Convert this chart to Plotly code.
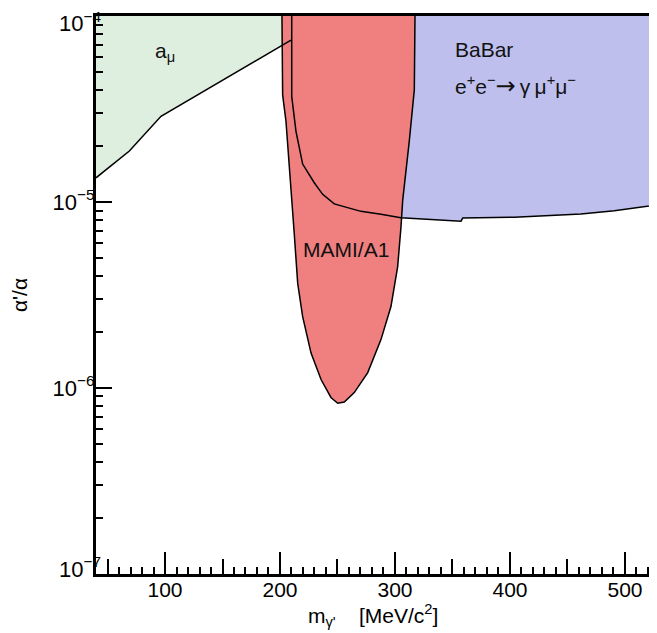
import plotly.graph_objects as go

# ---------------- data ----------------
# a_mu excluded band: lower boundary (MeV/c^2, alpha'/alpha)
amu_mass = [40.0, 69.0, 96.5, 209.6]
amu_limit = [1.35e-5, 1.88e-5, 2.89e-5, 7.42e-5]

# BaBar e+e- -> gamma mu+ mu- : lower boundary of excluded region
babar_mass = [210.2, 210.2, 213.9, 219.7, 229.8, 237.1, 247.2, 270.4, 287.8,
              305.2, 357.4, 358.9, 403.7, 461.7, 490.7, 540.0]
babar_limit = [1.0e-4, 3.70e-5, 2.40e-5, 1.60e-5, 1.27e-5, 1.10e-5, 9.77e-6,
               8.91e-6, 8.59e-6, 8.22e-6, 7.89e-6, 8.20e-6, 8.28e-6, 8.63e-6,
               8.99e-6, 9.85e-6]

# MAMI/A1 excluded region contour
mami_mass = [201.7, 202.3, 205.2, 211.0, 212.4, 215.4, 219.7, 227.0, 235.7,
             244.3, 250.2, 255.9, 264.6, 276.3, 287.8, 296.5, 302.3, 305.2,
             306.7, 312.4, 316.8, 317.4]
mami_limit = [1.0e-4, 3.77e-5, 2.72e-5, 7.94e-6, 6.75e-6, 3.65e-6, 2.42e-6,
              1.54e-6, 1.11e-6, 8.89e-7, 8.28e-7, 8.41e-7, 9.44e-7, 1.21e-6,
              1.82e-6, 2.74e-6, 4.48e-6, 7.33e-6, 1.02e-5, 2.12e-5, 4.01e-5,
              1.0e-4]

# axes
x_range = [40, 534.8]
y_decades = [-7, -6, -5, -4]
y_top = 1.0e-4
x_major = [100, 200, 300, 400, 500]
x_mid = [50, 150, 250, 350, 450]
x_minor = list(range(50, 540, 10))
y_major = [10.0 ** d for d in y_decades]
y_minor = [m * 10.0 ** d for d in y_decades[:-1] for m in range(2, 10)]
y_labels = ["10<sup>\u2212%d</sup>" % (-d) for d in y_decades]

FONT = "Liberation Sans, Arial, Helvetica, sans-serif"
GREEN = "#deeedf"
BLUE = "#bfbfee"
RED = "#f08080"

fig = go.Figure()

# fills
fig.add_trace(go.Scatter(
    x=amu_mass + [amu_mass[-1], amu_mass[0]],
    y=amu_limit + [y_top, y_top],
    fill="toself", fillcolor=GREEN, mode="none", hoverinfo="skip",
    showlegend=False))
fig.add_trace(go.Scatter(
    x=babar_mass + [babar_mass[-1], babar_mass[0]],
    y=babar_limit + [y_top, y_top],
    fill="toself", fillcolor=BLUE, mode="none", hoverinfo="skip",
    showlegend=False))
fig.add_trace(go.Scatter(
    x=mami_mass, y=mami_limit,
    fill="toself", fillcolor=RED, mode="lines",
    line=dict(color="black", width=1.5), hoverinfo="skip",
    showlegend=False))
# boundary lines on top
fig.add_trace(go.Scatter(
    x=amu_mass, y=amu_limit, mode="lines",
    line=dict(color="black", width=1.5), hoverinfo="skip", showlegend=False))
fig.add_trace(go.Scatter(
    x=babar_mass, y=babar_limit, mode="lines",
    line=dict(color="black", width=1.5), hoverinfo="skip", showlegend=False))
# helper traces so the overlaying axes are drawn
for xa, ya in (("x2", "y"), ("x", "y2"), ("x", "y3")):
    fig.add_trace(go.Scatter(
        x=[x_major[0]], y=[y_major[1]], xaxis=xa, yaxis=ya, mode="markers",
        marker=dict(opacity=0), hoverinfo="skip", showlegend=False))

tfont = dict(family=FONT, size=21, color="black")
yfont = dict(family=FONT, size=22, color="black")
y_range = [y_decades[0] - 0.0005, y_decades[-1] + 0.0005]

x_title = "m<sub>\u03b3'</sub>" + "\u00a0" * 4 + "[MeV/c<sup>2</sup>]"


def end_label_axis(val, text, shift):
    return dict(
        type="log", range=y_range, overlaying="y", anchor="x", side="left",
        showgrid=False, zeroline=False, showline=False, automargin=False,
        ticks="", tickmode="array", tickvals=[val], ticktext=[text],
        tickfont=yfont, ticklabeloverflow="allow", ticklabelstandoff=-6,
        ticklabelshift=shift)


fig.update_layout(
    width=657, height=633,
    margin=dict(l=88, r=0, t=7.5, b=66.5),
    paper_bgcolor="white", plot_bgcolor="white",
    font=tfont,
    xaxis=dict(
        range=x_range, showgrid=False, zeroline=False, automargin=False,
        showline=True, linewidth=3, linecolor="black", mirror=True,
        ticks="inside", ticklen=22, tickwidth=2, tickcolor="black",
        tickmode="array", tickvals=x_major, ticklabelstandoff=-5,
        ticktext=[str(v) for v in x_major], tickfont=tfont,
        minor=dict(ticks="inside", ticklen=7, tickwidth=1.5,
                   tickcolor="black", tickmode="array", tickvals=x_minor),
    ),
    xaxis2=dict(
        range=x_range, overlaying="x", anchor="y", side="bottom",
        showgrid=False, zeroline=False, showline=False, automargin=False,
        ticks="inside", ticklen=15, tickwidth=2, tickcolor="black",
        tickmode="array", tickvals=x_mid, showticklabels=False,
    ),
    yaxis=dict(
        type="log", range=y_range,
        showgrid=False, zeroline=False, automargin=False,
        showline=True, linewidth=3, linecolor="black", mirror=False,
        ticks="inside", ticklen=16, tickwidth=2, tickcolor="black",
        tickmode="array", tickvals=y_major,
        ticktext=[""] + y_labels[1:-1] + [""],
        tickfont=yfont, ticklabeloverflow="allow", ticklabelstandoff=-6,
        minor=dict(ticks="inside", ticklen=7, tickwidth=1.5,
                   tickcolor="black", tickmode="array", tickvals=y_minor),
        title=dict(text="\u03b1'/\u03b1", font=tfont, standoff=20),
    ),
    yaxis2=end_label_axis(y_major[-1], y_labels[-1], 7),
    yaxis3=end_label_axis(y_major[0], y_labels[0], -5),
)

# x-axis title
fig.add_annotation(x=0.4868, y=-0.0742, xref="paper", yref="paper",
                   text=x_title, showarrow=False, xanchor="center",
                   yanchor="middle", font=tfont)

ann_font = dict(family=FONT, size=21, color="#111111")
fig.add_annotation(x=89.6, y=-4.192, xref="x", yref="y",
                   text="a<sub>\u03bc</sub>", showarrow=False,
                   xanchor="left", yanchor="middle", font=ann_font)
fig.add_annotation(x=350.2, y=-4.1815, xref="x", yref="y",
                   text="BaBar", showarrow=False,
                   xanchor="left", yanchor="middle", font=ann_font)
fig.add_annotation(
    x=350.2, y=-4.374, xref="x", yref="y",
    text=("e<sup>+</sup>e<sup>\u2212</sup>"
          "<span style=\"font-family:DejaVu Sans;font-size:24px\">\u2192</span>"
          "\u2009\u03b3\u2009\u03bc<sup>+</sup>\u03bc<sup>\u2212</sup>"),
    showarrow=False, xanchor="left", yanchor="middle", font=ann_font)
fig.add_annotation(x=257.4, y=-5.257, xref="x", yref="y",
                   text="MAMI/A1", showarrow=False,
                   xanchor="center", yanchor="middle", font=ann_font)

fig.write_html("out.html")
